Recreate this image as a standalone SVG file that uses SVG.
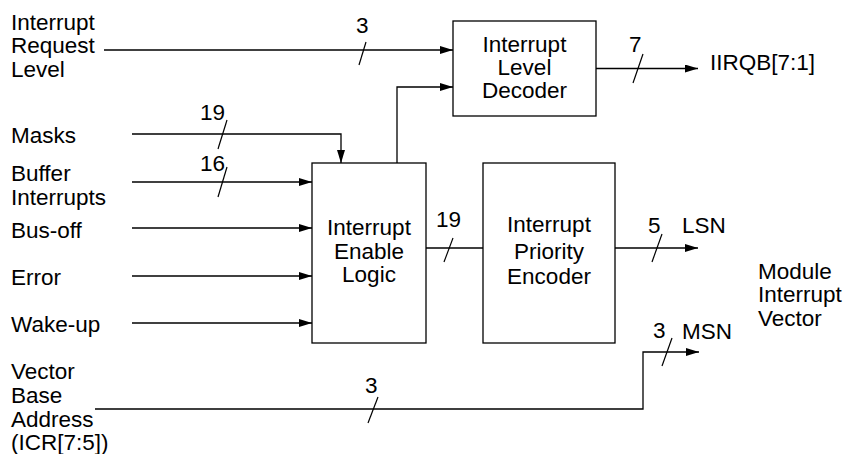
<svg xmlns="http://www.w3.org/2000/svg" width="848" height="454" viewBox="0 0 848 454">
<style>
text{font-family:"Liberation Sans",Arial,sans-serif;font-size:22.5px;fill:#000}
.c{text-anchor:middle}
.box{fill:#fff;stroke:#000;stroke-width:1.3}
.w{fill:none;stroke:#000;stroke-width:1.3}
.s{fill:none;stroke:#000;stroke-width:1.2}
</style>
<defs>
<marker id="arr" markerWidth="13" markerHeight="8" refX="13" refY="4" orient="auto" markerUnits="userSpaceOnUse"><path d="M0,0 L13,4 L0,8 z" fill="#000"/></marker>
</defs>
<rect width="848" height="454" fill="#fff"/>
<g id="labels">
<text x="11" y="29.5">Interrupt</text>
<text x="11" y="53">Request</text>
<text x="11" y="76.5">Level</text>
<text x="11" y="143">Masks</text>
<text x="11" y="181">Buffer</text>
<text x="11" y="205">Interrupts</text>
<text x="11" y="238">Bus-off</text>
<text x="11" y="285">Error</text>
<text x="11" y="332">Wake-up</text>
<text x="11" y="379">Vector</text>
<text x="11" y="403">Base</text>
<text x="11" y="427">Address</text>
<text x="11" y="450">(ICR[7:5])</text>
<text x="710" y="70">IIRQB[7:1]</text>
<text x="682" y="233">LSN</text>
<text x="682" y="339">MSN</text>
<text x="758" y="279">Module</text>
<text x="758" y="302">Interrupt</text>
<text x="758" y="326">Vector</text>
</g>
<g id="decoder">
<rect class="box" x="453" y="21" width="143" height="95"/>
<text class="c" x="524.5" y="52">Interrupt</text>
<text class="c" x="524.5" y="75">Level</text>
<text class="c" x="524.5" y="98">Decoder</text>
</g>
<g id="logic">
<rect class="box" x="312" y="163" width="114" height="180"/>
<text class="c" x="369" y="235">Interrupt</text>
<text class="c" x="369" y="258.5">Enable</text>
<text class="c" x="369" y="282">Logic</text>
</g>
<g id="encoder">
<rect class="box" x="483" y="163" width="132" height="180"/>
<text class="c" x="549" y="232">Interrupt</text>
<text class="c" x="549" y="259">Priority</text>
<text class="c" x="549" y="284">Encoder</text>
</g>
<g id="connectors">
<path class="w" d="M104,50 H453" marker-end="url(#arr)"/>
<path class="w" d="M397,163 V87 H453" marker-end="url(#arr)"/>
<path class="w" d="M596,68.5 H698" marker-end="url(#arr)"/>
<path class="w" d="M132,134 H341 V163" marker-end="url(#arr)"/>
<path class="w" d="M132,182 H312" marker-end="url(#arr)"/>
<path class="w" d="M132,228 H312" marker-end="url(#arr)"/>
<path class="w" d="M132,276 H312" marker-end="url(#arr)"/>
<path class="w" d="M132,323 H312" marker-end="url(#arr)"/>
<path class="w" d="M426,248 H483"/>
<path class="w" d="M615,248 H698" marker-end="url(#arr)"/>
<path class="w" d="M95,409 H643 V352 H699" marker-end="url(#arr)"/>
<path class="s" d="M359,65 L366,42"/>
<path class="s" d="M633,83 L643,54"/>
<path class="s" d="M218,149 L227,120"/>
<path class="s" d="M218,197 L227,167"/>
<path class="s" d="M444,262 L453,238"/>
<path class="s" d="M652,262 L662,234"/>
<path class="s" d="M662,366 L672,338"/>
<path class="s" d="M368,423 L378,397"/>
<text x="356" y="33">3</text>
<text x="629" y="52">7</text>
<text x="200" y="120">19</text>
<text x="200" y="171">16</text>
<text x="436" y="227">19</text>
<text x="648" y="233">5</text>
<text x="653" y="338">3</text>
<text x="365" y="393">3</text>
</g>
</svg>
